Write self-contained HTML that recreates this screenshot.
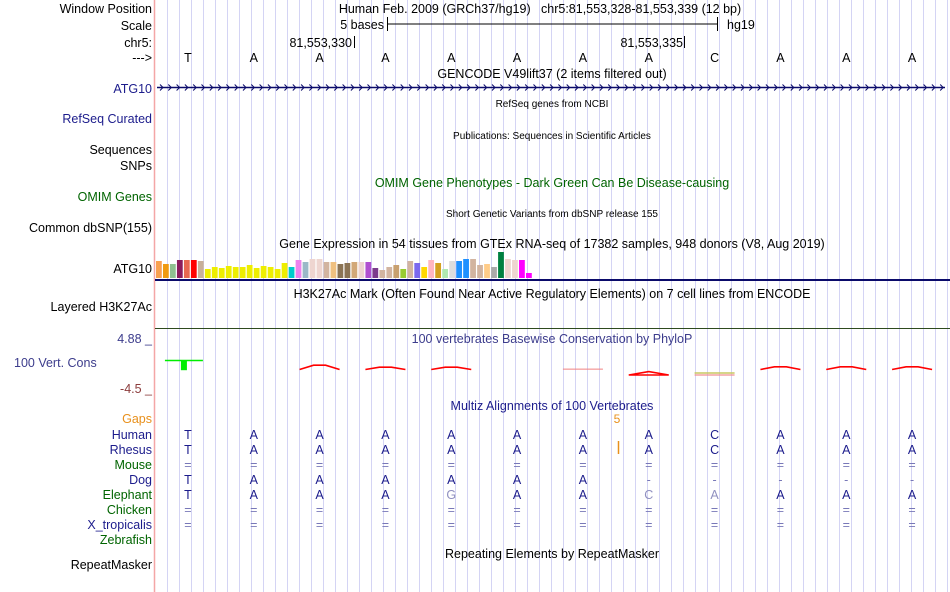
<!DOCTYPE html>
<html><head><meta charset="utf-8"><style>
body{margin:0;background:#fff}
svg{display:block;font-family:"Liberation Sans",sans-serif}
</style></head><body>
<svg id="s" width="950" height="592" viewBox="0 0 950 592">
<g id="grid"></g>
<line x1="154.5" y1="0" x2="154.5" y2="592" stroke="#f4a6a6" stroke-width="1.5"/>
<g font-size="12.5" text-anchor="end">
<text x="152" y="13" fill="#000">Window Position</text>
<text x="152" y="30" fill="#000">Scale</text>
<text x="152" y="47" fill="#000">chr5:</text>
<text x="152" y="62" fill="#000">---&gt;</text>
<text x="152" y="93" fill="#1c1c8c">ATG10</text>
<text x="152" y="123" fill="#1c1c8c">RefSeq Curated</text>
<text x="152" y="154" fill="#000">Sequences</text>
<text x="152" y="170" fill="#000">SNPs</text>
<text x="152" y="201" fill="#006400">OMIM Genes</text>
<text x="152" y="232" fill="#000">Common dbSNP(155)</text>
<text x="152" y="273" fill="#000">ATG10</text>
<text x="152" y="311" fill="#000">Layered H3K27Ac</text>
<text x="152" y="343" fill="#3c3c8c">4.88 _</text>
<text x="152" y="393" fill="#8c3c3c">-4.5 _</text>
<text x="152" y="423" fill="#e8901c">Gaps</text>
<text x="152" y="569" fill="#000">RepeatMasker</text>
</g>
<text x="14" y="367" font-size="12.5" fill="#3c3c8c">100 Vert. Cons</text>
<g id="species" font-size="12.5" text-anchor="end"></g>
<g font-size="12.5" text-anchor="middle" fill="#000">
<text x="540" y="13">Human Feb. 2009 (GRCh37/hg19)&#160;&#160;&#160;chr5:81,553,328-81,553,339 (12 bp)</text>
<text x="552" y="78">GENCODE V49lift37 (2 items filtered out)</text>
<text x="552" y="107" font-size="10">RefSeq genes from NCBI</text>
<text x="552" y="139" font-size="10">Publications: Sequences in Scientific Articles</text>
<text x="552" y="187" fill="#006400">OMIM Gene Phenotypes - Dark Green Can Be Disease-causing</text>
<text x="552" y="217" font-size="10">Short Genetic Variants from dbSNP release 155</text>
<text x="552" y="248">Gene Expression in 54 tissues from GTEx RNA-seq of 17382 samples, 948 donors (V8, Aug 2019)</text>
<text x="552" y="298">H3K27Ac Mark (Often Found Near Active Regulatory Elements) on 7 cell lines from ENCODE</text>
<text x="552" y="343" fill="#3c3c8c">100 vertebrates Basewise Conservation by PhyloP</text>
<text x="552" y="410" fill="#1c1c8c">Multiz Alignments of 100 Vertebrates</text>
<text x="552" y="558">Repeating Elements by RepeatMasker</text>
</g>
<g font-size="12.5">
<text x="384" y="29" text-anchor="end">5 bases</text>
<line x1="387" y1="24" x2="717" y2="24" stroke="#000"/>
<line x1="387.5" y1="17" x2="387.5" y2="31" stroke="#000"/>
<line x1="717.5" y1="17" x2="717.5" y2="31" stroke="#000"/>
<text x="727" y="29">hg19</text>
<text x="352" y="47" text-anchor="end">81,553,330</text>
<line x1="354.5" y1="36" x2="354.5" y2="48" stroke="#000"/>
<text x="683" y="47" text-anchor="end">81,553,335</text>
<line x1="684.5" y1="36" x2="684.5" y2="48" stroke="#000"/>
</g>
<g id="bases" font-size="12.5" text-anchor="middle"></g>
<g id="gene"></g>
<g id="gtex"></g>
<line x1="155" y1="280" x2="950" y2="280" stroke="#0a0a6a" stroke-width="2"/>
<line x1="155" y1="328.5" x2="950" y2="328.5" stroke="#2e4a1e"/>
<g id="phylop"></g>
<text x="617" y="423" font-size="12" fill="#e8901c" text-anchor="middle">5</text>
<line x1="618.5" y1="441" x2="618.5" y2="454" stroke="#e8901c" stroke-width="1.5"/>
<g id="multiz" font-size="12.5" text-anchor="middle"></g>
</svg>
<script>
const refBases=["T","A","A","A","A","A","A","A","C","A","A","A"];
const gtexValues=[17,14,14,18,18,18,17,9,11,10,12,11,11,13,10,12,11,9,15,11,18,16,19,19,16,16,14,15,16,16,16,10,8,11,13,9,17,15,11,18,15,9,17,17,19,19,13,14,11,26,19,18,18,5];
const gtexColors=["#f8a050","#f09a10","#90c090","#8c1c5c","#e86850","#ff0000","#c8b09a","#eeee00","#eeee00","#eeee00","#eeee00","#eeee00","#eeee00","#eeee00","#eeee00","#eeee00","#eeee00","#eeee00","#eeee00","#00cccc","#ee82ee","#9ab8c8","#eed5d0","#eed5d0","#d2b4a0","#f0c080","#8b7355","#8b7355","#d2a878","#eed5d0","#b050d0","#7c3c8c","#d2b4a0","#d2b4a0","#c8a070","#98cc30","#d2b4a0","#7b68ee","#ffd700","#ffb6c1","#d4a020","#b0e8b0","#dddddd","#1e90ff","#1e90ff","#d2b4a0","#d2b4a0","#ffcc88","#aaaaaa","#008040","#eed5d0","#eed5d0","#ff00ff","#ff00ff"];
const speciesNames=["Human","Rhesus","Mouse","Dog","Elephant","Chicken","X_tropicalis","Zebrafish"];
const speciesColors=["#1c1c8c","#1c1c8c","#006400","#1c1c8c","#006400","#006400","#1c1c8c","#006400"];
const alignRows=[
"TAAAAAAACAAA","TAAAAAAACAAA","============","TAAAAAA-----","TAAAgAAcaAAA","============","============",""];
const phyloValues=[1.2,0,1.3,0.7,0.7,0,0.1,-0.8,-0.9,0.8,0.8,0.8];
const phyloKind=["green","none","arc","arc","arc","none","flat","arcneg","flatneg","arc","arc","arc"];

const NS="http://www.w3.org/2000/svg";
function mk(t,a,p){const e=document.createElementNS(NS,t);for(const k in a)e.setAttribute(k,a[k]);p.appendChild(e);return e;}
const x0=155,bw=(945-155)/12;
function bx(i){return x0+bw*(i+0.5);}
const grid=document.getElementById('grid');
for(let k=1;k<=66;k++){const x=155+12*k+0.5;if(x>950)break;
 const l=mk('line',{x1:x,y1:0,x2:x,y2:592,stroke:'#d4d4f4'},grid);
 
 }
const bases=document.getElementById('bases');
refBases.forEach((b,i)=>{const t=mk('text',{x:bx(i),y:62},bases);t.textContent=b;
 
 });
const gene=document.getElementById('gene');
mk('line',{x1:157,y1:87.5,x2:945,y2:87.5,stroke:'#0a0a6a','stroke-width':1.5},gene);
for(let x=160;x<944;x+=8.3){mk('path',{d:`M${x} ${84.5}L${x+3} ${87.5}L${x} ${90.5}`,fill:'none',stroke:'#0a0a6a'},gene);}
const gtex=document.getElementById('gtex');
const gw=(533-156)/gtexValues.length,gbase=278,gs=1.0;
gtexValues.forEach((v,i)=>{const r=mk('rect',{x:156+i*gw,y:gbase-v*gs,width:gw-1.2,height:v*gs,fill:gtexColors[i]},gtex);
 
 });
const sp=document.getElementById('species');
speciesNames.forEach((n,i)=>{const t=mk('text',{x:152,y:439+15*i,fill:speciesColors[i]},sp);t.textContent=n;
 
 });
const mz=document.getElementById('multiz');
alignRows.forEach((row,r)=>{for(let i=0;i<row.length;i++){let c=row[i];let col='#1c1c8c';
 if(c==='='||c==='-')col='#7878b8';
 if(c>='a'&&c<='z'){col='#9090c0';c=c.toUpperCase();}
 const t=mk('text',{x:bx(i),y:439+15*r,fill:col},mz);t.textContent=c;
 
 }});
const ph=document.getElementById('phylop');
const zeroY=369.5,ps=3.3;
phyloValues.forEach((v,i)=>{const k=phyloKind[i],c=bx(i);let e=null;
 if(k==='green'){e=mk('g',{},ph);mk('line',{x1:c-23,y1:360.5,x2:c+15,y2:360.5,stroke:'#00ee00','stroke-width':1.5},e);mk('rect',{x:c-7,y:360,width:6,height:v*8.5,fill:'#00ee00'},e);}
 else if(k==='arc'){e=mk('path',{d:`M${c-20} ${zeroY}L${c-6} ${zeroY-v*ps}L${c+6} ${zeroY-v*ps}L${c+20} ${zeroY}`,fill:'none',stroke:'#ff0000','stroke-width':1.6},ph);}
 else if(k==='flat'){e=mk('line',{x1:c-20,y1:zeroY-v*ps,x2:c+20,y2:zeroY-v*ps,stroke:'#f08080'},ph);}
 else if(k==='arcneg'){const b=375;e=mk('path',{d:`M${c-20} ${b}L${c} ${b+v*ps*1.3}L${c+20} ${b}Z`,fill:'none',stroke:'#ff0000','stroke-width':1.6},ph);}
 else if(k==='flatneg'){e=mk('g',{},ph);mk('line',{x1:c-20,y1:373,x2:c+20,y2:373,stroke:'#c8c860','stroke-width':1.5},e);mk('line',{x1:c-20,y1:375,x2:c+20,y2:375,stroke:'#f09090','stroke-width':1.2},e);}
 if(e){
 }});
</script>
</body></html>
